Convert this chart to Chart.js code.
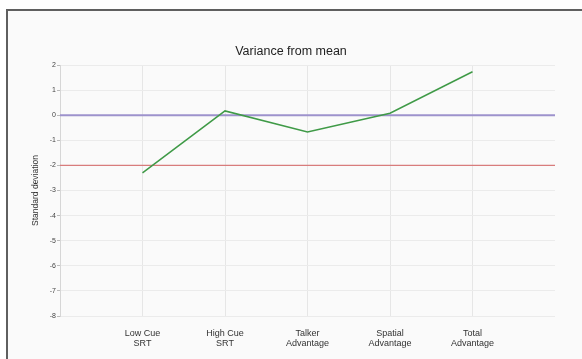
<!DOCTYPE html>
<html>
<head>
<meta charset="utf-8">
<script src="https://cdn.jsdelivr.net/npm/chart.js@4"></script>
<style>
  html, body { margin: 0; padding: 0; background: #fff; overflow: hidden; }
  #frame { position: absolute; left: 6px; top: 9px; width: 576px; height: 350px; box-sizing: border-box;
           border-left: 2px solid #5f5f5f; border-top: 2px solid #5f5f5f; background: #fafafa; }
  #wrap { position: absolute; left: 0; top: 0; width: 582px; height: 359px; }
</style>
</head>
<body>
<div id="frame"></div>
<div id="wrap"><canvas id="myChart1" width="582" height="359"></canvas></div>
<script>
  // Data
  const categories = [['Low Cue', 'SRT'], ['High Cue', 'SRT'], ['Talker', 'Advantage'], ['Spatial', 'Advantage'], ['Total', 'Advantage']];
  const varianceData = [-2.3, 0.17, -0.67, 0.08, 1.73];
  const meanLine = 0;
  const thresholdLine = -2;
  const yTicks = { min: -8, max: 2, step: 1 };

  // empty slot on each side so the categories sit inside the axis
  const labels1 = [''].concat(categories, ['']);
  const fontFamily = '"Liberation Sans", Arial, sans-serif';

  const config1 = {
    type: 'line',
    data: {
      labels: labels1,
      datasets: [
        {
          label: 'Variance',
          data: [null].concat(varianceData, [null]),
          borderColor: '#3f9a47',
          borderWidth: 1.5,
          pointRadius: 0,
          tension: 0,
          fill: false
        },
        {
          label: 'Mean',
          data: labels1.map(() => meanLine),
          borderColor: '#9d92cc',
          borderWidth: 2,
          pointRadius: 0,
          fill: false
        },
        {
          label: 'Threshold',
          data: labels1.map(() => thresholdLine),
          borderColor: '#d87c7c',
          borderWidth: 1.2,
          pointRadius: 0,
          fill: false
        }
      ]
    },
    options: {
      responsive: false,
      animation: false,
      layout: { padding: { left: 27, right: 27, top: 0, bottom: 0 } },
      plugins: {
        legend: { display: false },
        tooltip: { enabled: false },
        title: {
          display: true,
          text: 'Variance from mean',
          color: '#222',
          font: { family: fontFamily, size: 12.5, weight: 'normal', lineHeight: 1.2 },
          padding: { top: 44, bottom: 6 }
        }
      },
      scales: {
        x: {
          border: { display: false },
          grid: {
            color: (c) => (c.index === 0 || c.index === labels1.length - 1) ? 'rgba(0,0,0,0)' : '#e6e6e6',
            drawTicks: false,
            tickLength: 0
          },
          ticks: {
            color: '#333',
            padding: 13,
            maxRotation: 0,
            autoSkip: false,
            font: { family: fontFamily, size: 9, lineHeight: 1.11 }
          },
          afterFit: (s) => { s.height = 43; }
        },
        y: {
          min: yTicks.min,
          max: yTicks.max,
          border: { display: true, color: '#d6d6d6' },
          grid: { color: '#ebebeb', tickLength: 3, tickColor: '#bbb' },
          ticks: {
            stepSize: yTicks.step,
            color: '#444',
            padding: 1,
            font: { family: fontFamily, size: 7 }
          },
          title: {
            display: true,
            text: 'Standard deviation',
            color: '#333',
            font: { family: fontFamily, size: 8.5 },
            padding: { top: 4, bottom: 0 }
          },
          afterFit: (s) => { s.width = 33; }
        }
      }
    }
  };

  const ctx = document.getElementById('myChart1').getContext('2d');
  const myChart1 = new Chart(ctx, config1);
</script>
</body>
</html>
